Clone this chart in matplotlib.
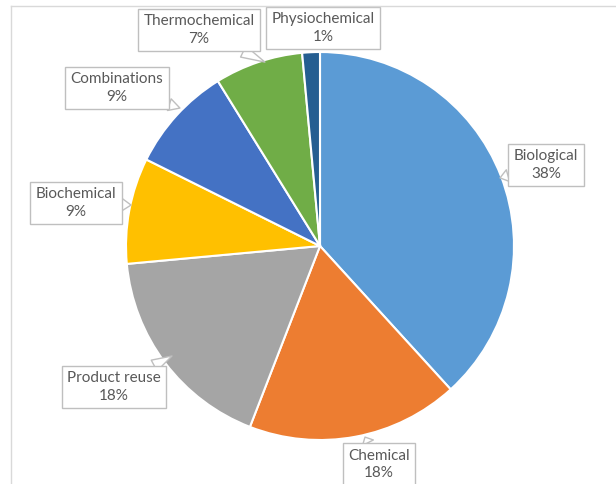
import matplotlib
matplotlib.use('Agg')
import matplotlib.pyplot as plt
from matplotlib.lines import Line2D

# data (counts, shown as rounded percentages)
categories = ['Biological', 'Chemical', 'Product reuse', 'Biochemical',
              'Combinations', 'Thermochemical', 'Physiochemical']
counts = [26, 12, 12, 6, 6, 5, 1]
colors = ['#5B9BD5', '#ED7D31', '#A5A5A5', '#FFC000',
          '#4472C4', '#70AD47', '#255E91']

# callout box centres and pointer tips (pie radius = 1)
label_pos = [(1.165, 0.418), (0.304, -1.125), (-1.062, -0.727), (-1.258, 0.222),
             (-1.046, 0.814), (-0.624, 1.113), (0.015, 1.124)]
tip_pos = [(0.928, 0.351), (0.232, -0.985), (-0.763, -0.567), (-0.974, 0.211),
           (-0.722, 0.711), (-0.284, 0.948), None]

plt.rcParams['font.family'] = ['Lato', 'DejaVu Sans']

fig = plt.figure(figsize=(6.16, 4.84), dpi=100)
ax = fig.add_axes([0, 0, 1, 1])
ax.pie(counts, colors=colors, startangle=90, counterclock=False, radius=1,
       wedgeprops=dict(edgecolor='white', linewidth=1.5))
ax.set_xlim(-320 / 194, 296 / 194)
ax.set_ylim(-238 / 194, 246 / 194)
ax.set_aspect('equal')
ax.axis('off')

total = sum(counts)
for name, c, pos, tip in zip(categories, counts, label_pos, tip_pos):
    txt = '%s\n%d%%' % (name, round(100 * c / total))
    box = dict(boxstyle='square,pad=0.35', fc='white', ec='#BFBFBF', lw=1)
    if tip is None:
        ax.text(pos[0], pos[1], txt, ha='center', va='center', fontsize=11,
                color='#595959', bbox=box, linespacing=1.3)
    else:
        ax.annotate(txt, xy=tip, xytext=pos, ha='center', va='center',
                    fontsize=11, color='#595959', bbox=box, linespacing=1.3,
                    arrowprops=dict(arrowstyle='wedge,tail_width=0.8,shrink_factor=0.5',
                                    fc='white', ec='#BFBFBF', lw=1,
                                    shrinkA=0, shrinkB=0))

# chart frame
fx, fy = 11 / 616, 1 - 6 / 484
fig.add_artist(Line2D([fx, fx], [0, fy], color='#D9D9D9', lw=1, transform=fig.transFigure))
fig.add_artist(Line2D([fx, 1], [fy, fy], color='#D9D9D9', lw=1, transform=fig.transFigure))

fig.savefig('out.png', dpi=100, facecolor='white')
